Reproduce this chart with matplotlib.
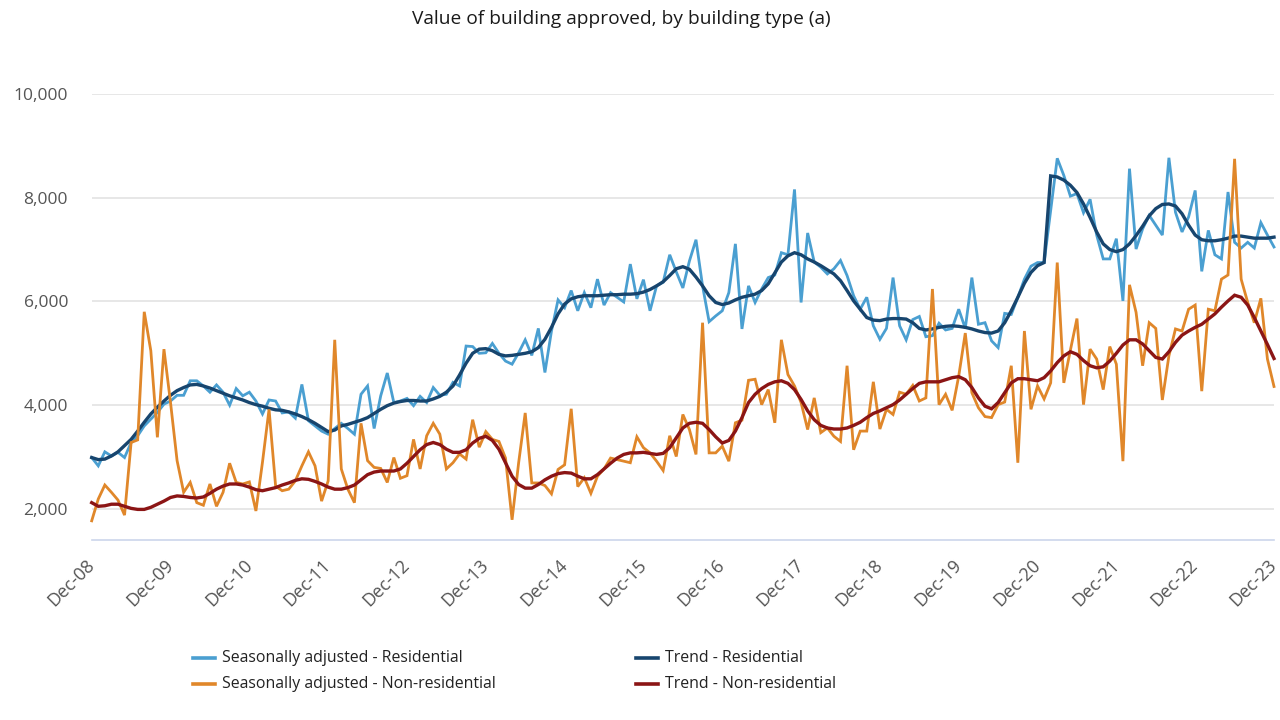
import matplotlib
matplotlib.use("Agg")
import matplotlib.pyplot as plt
from matplotlib.lines import Line2D
from matplotlib.ticker import FuncFormatter
import numpy as np

plt.rcParams['font.family'] = ['Open Sans', 'DejaVu Sans']

# ---------------- data (monthly, Dec-08 .. Dec-23) ----------------
tick_labels = ["Dec-08", "Dec-09", "Dec-10", "Dec-11", "Dec-12", "Dec-13", "Dec-14", "Dec-15",
               "Dec-16", "Dec-17", "Dec-18", "Dec-19", "Dec-20", "Dec-21", "Dec-22", "Dec-23"]

res_sa = [2990,
          2830, 3100, 3020, 3090, 2990, 3280, 3410, 3600, 3730, 3860, 4020, 4080,
          4190, 4190, 4470, 4470, 4370, 4250, 4390, 4250, 4000, 4320, 4180, 4250,
          4080, 3830, 4100, 4080, 3850, 3870, 3750, 4400, 3700, 3600, 3500, 3440,
          3550, 3650, 3550, 3440, 4210, 4370, 3550, 4180, 4620, 4050, 4080, 4130,
          3990, 4170, 4050, 4340, 4190, 4210, 4440, 4370, 5140, 5130, 5000, 5010,
          5190, 5000, 4850, 4790, 5010, 5260, 4960, 5480, 4630, 5430, 6030, 5880,
          6210, 5820, 6170, 5880, 6430, 5930, 6170, 6080, 5990, 6720, 6050, 6420,
          5820, 6300, 6370, 6900, 6570, 6260, 6780, 7190, 6300, 5610, 5720, 5820,
          6170, 7110, 5470, 6300, 5980, 6240, 6460, 6510, 6940, 6900, 8160, 5980,
          7320, 6760, 6660, 6530, 6630, 6790, 6500, 6110, 5850, 6080, 5530, 5270,
          5480, 6460, 5530, 5260, 5650, 5710, 5320, 5340, 5580, 5450, 5480, 5850,
          5480, 6460, 5560, 5590, 5240, 5110, 5770, 5750, 6080, 6430, 6680, 6750,
          6750, 7750, 8760, 8430, 8030, 8080, 7710, 7970, 7280, 6820, 6820, 7210,
          6010, 8560, 7010, 7400, 7660, 7470, 7280, 8770, 7720, 7340, 7630, 8140,
          6580, 7370, 6900, 6820, 8110, 7140, 7030, 7140, 7030, 7520, 7280, 7050]

res_trend = [2990,
             2950, 2960, 3020, 3100, 3220, 3340, 3500, 3670, 3830, 3960, 4080, 4190,
             4280, 4340, 4390, 4400, 4370, 4330, 4280, 4230, 4180, 4140, 4100, 4050,
             4010, 3980, 3940, 3910, 3900, 3870, 3830, 3780, 3720, 3650, 3570, 3490,
             3520, 3600, 3630, 3670, 3710, 3760, 3840, 3920, 3990, 4040, 4070, 4090,
             4090, 4080, 4080, 4120, 4170, 4250, 4370, 4580, 4810, 5000, 5080, 5090,
             5050, 4980, 4950, 4960, 4980, 5000, 5030, 5110, 5270, 5500, 5760, 5950,
             6050, 6090, 6110, 6110, 6110, 6120, 6130, 6130, 6140, 6140, 6150, 6180,
             6230, 6300, 6380, 6500, 6630, 6670, 6620, 6470, 6300, 6110, 5980, 5940,
             5970, 6030, 6080, 6110, 6140, 6210, 6340, 6550, 6760, 6880, 6940, 6900,
             6820, 6760, 6690, 6610, 6530, 6400, 6210, 6010, 5850, 5690, 5640, 5630,
             5660, 5670, 5670, 5660, 5590, 5480, 5450, 5470, 5500, 5520, 5530, 5520,
             5500, 5470, 5430, 5400, 5390, 5430, 5590, 5820, 6080, 6350, 6560, 6690,
             6750, 8420, 8400, 8340, 8240, 8100, 7880, 7620, 7340, 7110, 7000, 6960,
             7000, 7110, 7270, 7450, 7650, 7790, 7870, 7880, 7840, 7690, 7470, 7280,
             7190, 7170, 7170, 7190, 7220, 7260, 7260, 7240, 7220, 7220, 7220, 7240]

nonres_sa = [1770,
             2190, 2460, 2320, 2170, 1880, 3280, 3330, 5800, 5050, 3380, 5080, 4050,
             2930, 2320, 2510, 2120, 2070, 2480, 2050, 2320, 2880, 2510, 2480, 2520,
             1960, 2900, 3920, 2440, 2350, 2380, 2540, 2830, 3100, 2830, 2150, 2540,
             5260, 2770, 2380, 2120, 3650, 2930, 2800, 2780, 2510, 2990, 2590, 2640,
             3340, 2770, 3410, 3650, 3440, 2770, 2890, 3060, 2960, 3720, 3190, 3490,
             3340, 3300, 2980, 1790, 2890, 3850, 2500, 2500, 2450, 2290, 2760, 2850,
             3930, 2430, 2600, 2300, 2630, 2770, 2980, 2950, 2920, 2890, 3390, 3180,
             3080, 2920, 2740, 3410, 3010, 3820, 3530, 3050, 5590, 3080, 3080, 3210,
             2920, 3660, 3710, 4480, 4500, 4010, 4300, 3660, 5260, 4590, 4370, 4050,
             3530, 4140, 3470, 3560, 3400, 3300, 4760, 3140, 3500, 3500, 4450, 3540,
             3920, 3820, 4250, 4210, 4380, 4080, 4140, 6240, 4010, 4210, 3900, 4560,
             5390, 4240, 3950, 3780, 3760, 4010, 4060, 4760, 2890, 5430, 3920, 4370,
             4120, 4430, 6750, 4430, 5060, 5670, 4010, 5080, 4890, 4300, 5130, 4790,
             2920, 6320, 5790, 4760, 5590, 5480, 4100, 4950, 5470, 5430, 5850, 5930,
             4270, 5850, 5820, 6430, 6510, 8750, 6430, 5980, 5590, 6060, 4890, 4360]

nonres_trend = [2120,
                2050, 2060, 2090, 2090, 2050, 2010, 1990, 1990, 2030, 2090, 2150, 2220,
                2250, 2240, 2220, 2210, 2230, 2300, 2380, 2440, 2480, 2480, 2460, 2420,
                2370, 2350, 2380, 2410, 2460, 2500, 2550, 2580, 2570, 2530, 2480, 2420,
                2380, 2380, 2410, 2460, 2560, 2660, 2710, 2730, 2730, 2730, 2770, 2880,
                3010, 3140, 3240, 3280, 3240, 3150, 3090, 3090, 3140, 3270, 3360, 3400,
                3320, 3150, 2890, 2630, 2470, 2400, 2400, 2470, 2560, 2630, 2680, 2700,
                2690, 2630, 2580, 2580, 2660, 2770, 2880, 2980, 3050, 3080, 3080, 3090,
                3070, 3050, 3070, 3180, 3370, 3560, 3650, 3670, 3650, 3530, 3390, 3270,
                3320, 3500, 3760, 4050, 4210, 4320, 4400, 4450, 4470, 4420, 4300, 4110,
                3890, 3720, 3610, 3560, 3540, 3540, 3560, 3610, 3670, 3760, 3840, 3890,
                3950, 4010, 4100, 4210, 4320, 4420, 4450, 4450, 4450, 4490, 4530, 4550,
                4490, 4340, 4140, 3980, 3930, 4050, 4240, 4430, 4510, 4510, 4490, 4470,
                4530, 4660, 4820, 4950, 5030, 4980, 4860, 4760, 4720, 4740, 4850, 5000,
                5160, 5260, 5260, 5180, 5050, 4920, 4890, 5030, 5210, 5350, 5430, 5500,
                5560, 5660, 5760, 5890, 6010, 6120, 6080, 5930, 5690, 5430, 5170, 4900]

series_names = ["Seasonally adjusted - Residential", "Trend - Residential",
                "Seasonally adjusted - Non-residential", "Trend - Non-residential"]
series_vals = [res_sa, res_trend, nonres_sa, nonres_trend]
colors = ["#4a9fd1", "#17456e", "#e0872a", "#8b1515"]
widths = [2.0, 2.4, 2.0, 2.4]

W, H = 1280, 720
fig = plt.figure(figsize=(12.8, 7.2), dpi=100)
x0, x1, ytop, ybot = 91.7, 1274.0, 94.0, 540.0
ax = fig.add_axes([x0 / W, 1 - ybot / H, (x1 - x0) / W, (ybot - ytop) / H])

n = len(res_sa)
x = np.arange(n)
for vals, c, lw in zip(series_vals, colors, widths):
    ax.plot(x, vals, color=c, lw=lw, solid_joinstyle='miter', clip_on=False, zorder=3)

ax.set_xlim(0, n - 1)
ax.set_ylim(1400, 10000)
ax.set_yticks([2000, 4000, 6000, 8000, 10000])
ax.yaxis.set_major_formatter(FuncFormatter(lambda v, p: f"{int(v):,}"))
ax.yaxis.grid(True, color="#e3e3e3", lw=1.2)
ax.set_axisbelow(True)
for s in ["top", "right", "left"]:
    ax.spines[s].set_visible(False)
ax.spines["bottom"].set_color("#ccd6eb")
ax.spines["bottom"].set_linewidth(1.2)

ax.set_xticks(np.arange(0, n, 12))
ax.set_xticklabels(tick_labels)
ax.tick_params(axis="y", length=0, pad=17, labelsize=12.5, labelcolor="#555555")
ax.tick_params(axis="x", length=0, pad=16, labelsize=13, labelcolor="#555555")
for lab in ax.get_xticklabels():
    lab.set_rotation(45)
    lab.set_ha("right")
    lab.set_va("center")
    lab.set_rotation_mode("anchor")

fig.text(621.5 / W, 1 - 19 / H, "Value of building approved, by building type (a)",
         ha="center", va="center", fontsize=13.8, color="#1a1a1a")

# legend drawn manually (2 columns, 2 rows)
leg_pos = [(193, 658), (636, 658), (193, 684), (636, 684)]
for (lx, ly), name, c in zip(leg_pos, series_names, colors):
    fig.add_artist(Line2D([lx / W, (lx + 22) / W], [1 - ly / H, 1 - ly / H],
                          transform=fig.transFigure, color=c, lw=2.6))
    fig.text((lx + 29) / W, 1 - ly / H, name, ha="left", va="center",
             fontsize=11.4, color="#222222")

fig.savefig("out.png", dpi=100, facecolor="white")
